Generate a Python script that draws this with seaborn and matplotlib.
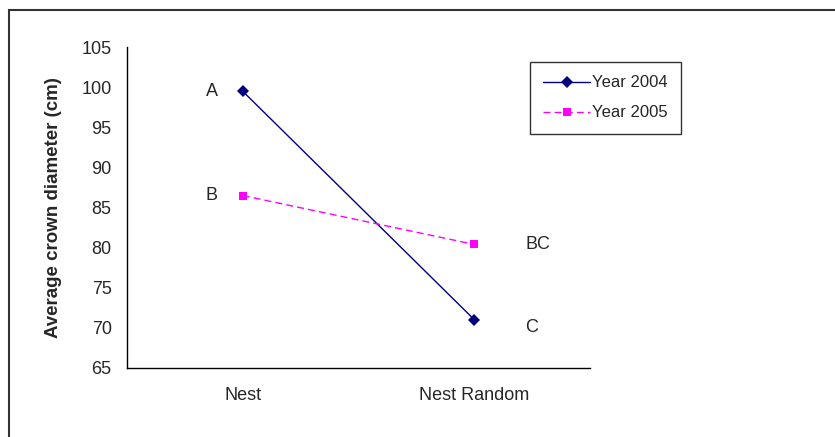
import pandas as pd
import numpy as np
import seaborn as sns
import matplotlib.pyplot as plt
from matplotlib.patches import Rectangle

treatments = ['Nest', 'Nest Random']
years = ['Year 2004', 'Year 2005']
crown_2004 = [99.5, 71.0]
crown_2005 = [86.5, 80.4]
letters_2004 = ['A', 'C']
letters_2005 = ['B', 'BC']

df = pd.DataFrame({
    'treatment': treatments * 2,
    'year': [years[0]] * 2 + [years[1]] * 2,
    'crown': crown_2004 + crown_2005,
})

sns.set_style('white')
plt.rcParams['font.family'] = ['Liberation Sans', 'DejaVu Sans']

fig = plt.figure(figsize=(8.35, 4.37), dpi=100)
ax = fig.add_axes([0.152, 0.158, 0.555, 0.734])

palette = {'Year 2004': '#000080', 'Year 2005': '#FF00FF'}
sns.lineplot(data=df, x='treatment', y='crown', hue='year', style='year',
             palette=palette, markers={'Year 2004': 'D', 'Year 2005': 's'},
             dashes={'Year 2004': '', 'Year 2005': (5, 3)},
             markersize=6, linewidth=1, markeredgewidth=0, ax=ax)

# significance letters
for i, t in enumerate(treatments):
    off = -0.16 if i == 0 else 0.22
    ax.text(i + off, crown_2004[i] + (0 if i == 0 else -1.0), letters_2004[i],
            fontsize=13, va='center', ha='left')
    ax.text(i + off, crown_2005[i], letters_2005[i],
            fontsize=13, va='center', ha='left')

ax.set_xlim(-0.5, 1.5)
ax.set_ylim(65, 105)
ax.set_yticks(np.arange(65, 106, 5))
ax.set_xticks([-0.5, 0.5, 1.5])
ax.set_xticklabels([])
ax.set_xticks([0, 1], minor=True)
ax.set_xticklabels(treatments, minor=True)
ax.tick_params(axis='x', which='minor', length=0, pad=14, labelsize=13)
ax.tick_params(axis='x', which='major', length=4, direction='out', color='black')
ax.tick_params(axis='y', length=5, direction='out', color='black', labelsize=13, pad=6)
ax.set_xlabel('')
ax.set_ylabel('Average crown diameter (cm)', fontsize=13.5, fontweight='bold', labelpad=14)

for side in ['top', 'right']:
    ax.spines[side].set_visible(False)
for side in ['left', 'bottom']:
    ax.spines[side].set_color('black')
    ax.spines[side].set_linewidth(1)

leg = ax.legend(title=None, loc='upper left', bbox_to_anchor=(530 / 835, 1 - 62 / 437),
                bbox_transform=fig.transFigure,
                frameon=True, fancybox=False, fontsize=12, handlelength=2.8,
                borderpad=0.8, labelspacing=0.9, handletextpad=0.1,
                borderaxespad=0)
leg.get_frame().set_edgecolor('black')
leg.get_frame().set_linewidth(1)

fig.patches.append(Rectangle((9 / 835, -0.05), 1.0, 1 - 10 / 437 + 0.05,
                             transform=fig.transFigure, fill=False,
                             edgecolor='#333333', linewidth=1.5))

plt.savefig('out.png', dpi=100)
